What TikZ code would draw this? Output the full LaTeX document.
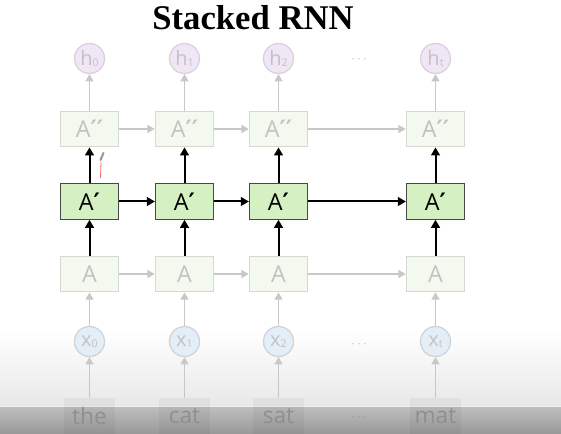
\documentclass[tikz,border=0pt]{standalone}
\usepackage{fontspec}
\setmainfont{Open Sans}
\newfontfamily\titlefont{Liberation Serif}
\newfontfamily\primefont{DejaVu Sans}
\usetikzlibrary{arrows.meta}
\definecolor{fadefill}{HTML}{F4F9F0}
\definecolor{fadeline}{HTML}{D6D9D3}
\definecolor{fadetext}{HTML}{C2C2C2}
\definecolor{livefill}{HTML}{D5F1C4}
\definecolor{liveline}{HTML}{474747}
\definecolor{hfill}{HTML}{F1E6F5}
\definecolor{hline}{HTML}{DACFDD}
\definecolor{xfill}{HTML}{E4EEF7}
\definecolor{xline}{HTML}{CDD3D8}
\definecolor{wirefade}{HTML}{C8C8C8}
\newcommand{\lowidx}[1]{\raisebox{-0.8pt}{\fontsize{8}{8}\selectfont#1}}
\newcommand{\pr}{{\primefont\bfseries\fontsize{18}{18}\selectfont ′}}
\begin{document}
\begin{tikzpicture}[x=0.75pt,y=-0.75pt,
  faded/.style={draw=fadeline,fill=fadefill,text=fadetext,line width=1.1pt,minimum width=43.5pt,minimum height=26.5pt,inner sep=0pt,font=\fontsize{17.5}{17.5}\selectfont},
  live/.style={faded,draw=liveline,fill=livefill,text=black,line width=0.9pt},
  hcirc/.style={circle,draw=hline,fill=hfill,text=fadetext,line width=0.9pt,minimum size=22.5pt,inner sep=0pt,font=\fontsize{15}{15}\selectfont},
  xcirc/.style={hcirc,draw=xline,fill=xfill},
  word/.style={fill=black,fill opacity=0.04,text opacity=1,text=black!44,minimum width=38pt,minimum height=27pt,inner sep=0pt,font=\fontsize{17}{17}\selectfont},
  fadearrow/.style={draw=wirefade,line width=1.1pt,-{Triangle[length=5.5pt,width=6pt]}},
  livearrow/.style={draw=black,line width=1.5pt,-{Triangle[length=6pt,width=6.5pt]}}]
\useasboundingbox (0,0) rectangle (561,434);

% background and player band:
\fill[white] (0,0) rectangle (561,330);
\fill[top color=white,bottom color=black!9] (0,330) rectangle (561,406);
\fill[black!5] (0,406) rectangle (561,407.5);
\fill[top color=black!26,bottom color=black!40] (0,407.5) rectangle (561,434);

\path (253,30) node[anchor=base,font=\titlefont\bfseries\fontsize{26}{26}\selectfont] (title) {Stacked RNN};

% outputs:
\path (89.5,58.5) node[hcirc] (h0) {h\lowidx{0}};
\path (184.5,58.5) node[hcirc] (h1) {h\lowidx{1}};
\path (278.5,58.5) node[hcirc] (h2) {h\lowidx{2}};
\path (435.5,58.5) node[hcirc] (ht) {h\lowidx{t}};
\path (359,60) node[text=fadetext] (hdots) {$\cdots$};

% top layer:
\path (89.5,129) node[faded] (top0) {A\pr\pr};
\path (184.5,129) node[faded] (top1) {A\pr\pr};
\path (278.5,129) node[faded] (top2) {A\pr\pr};
\path (435.5,129) node[faded] (topt) {A\pr\pr};

% middle layer:
\path (89.5,201.5) node[live] (mid0) {A\pr};
\path (184.5,201.5) node[live] (mid1) {A\pr};
\path (278.5,201.5) node[live] (mid2) {A\pr};
\path (435.5,201.5) node[live] (midt) {A\pr};

% bottom layer:
\path (89.5,274) node[faded] (low0) {A};
\path (184.5,274) node[faded] (low1) {A};
\path (278.5,274) node[faded] (low2) {A};
\path (435.5,274) node[faded] (lowt) {A};

% inputs:
\path (89.5,341.5) node[xcirc] (x0) {x\lowidx{0}};
\path (184.5,341.5) node[xcirc] (x1) {x\lowidx{1}};
\path (278.5,341.5) node[xcirc] (x2) {x\lowidx{2}};
\path (435.5,341.5) node[xcirc] (xt) {x\lowidx{t}};
\path (359,345) node[text=fadetext] (xdots) {$\cdots$};

\path (89.5,416) node[word] (w0) {the};
\path (184.5,416) node[word] (w1) {cat};
\path (278.5,416) node[word] (w2) {sat};
\path (435.5,416) node[word] (wt) {mat};
\path (359,418) node[text=black!40] (wdots) {$\cdots$};

% connectors:
\draw[fadearrow] (w0) -- (x0);
\draw[fadearrow] (w1) -- (x1);
\draw[fadearrow] (w2) -- (x2);
\draw[fadearrow] (wt) -- (xt);
\draw[fadearrow] (x0) -- (low0);
\draw[fadearrow] (x1) -- (low1);
\draw[fadearrow] (x2) -- (low2);
\draw[fadearrow] (xt) -- (lowt);
\draw[fadearrow] (low0) -- (low1);
\draw[fadearrow] (low1) -- (low2);
\draw[fadearrow] (low2) -- (lowt);
\draw[livearrow] (low0) -- (mid0);
\draw[livearrow] (low1) -- (mid1);
\draw[livearrow] (low2) -- (mid2);
\draw[livearrow] (lowt) -- (midt);
\draw[livearrow] (mid0) -- (mid1);
\draw[livearrow] (mid1) -- (mid2);
\draw[livearrow] (mid2) -- (midt);
\draw[livearrow] (mid0) -- (top0);
\draw[livearrow] (mid1) -- (top1);
\draw[livearrow] (mid2) -- (top2);
\draw[livearrow] (midt) -- (topt);
\draw[fadearrow] (top0) -- (top1);
\draw[fadearrow] (top1) -- (top2);
\draw[fadearrow] (top2) -- (topt);
\draw[fadearrow] (top0) -- (h0);
\draw[fadearrow] (top1) -- (h1);
\draw[fadearrow] (top2) -- (h2);
\draw[fadearrow] (topt) -- (ht);

% pen mark:
\draw[red!60,line width=0.6pt] (101,162) -- (100.5,178);
\draw[black!40,line width=1.6pt,line cap=round] (100.5,160) -- (103.5,153);

\end{tikzpicture}
\end{document}
